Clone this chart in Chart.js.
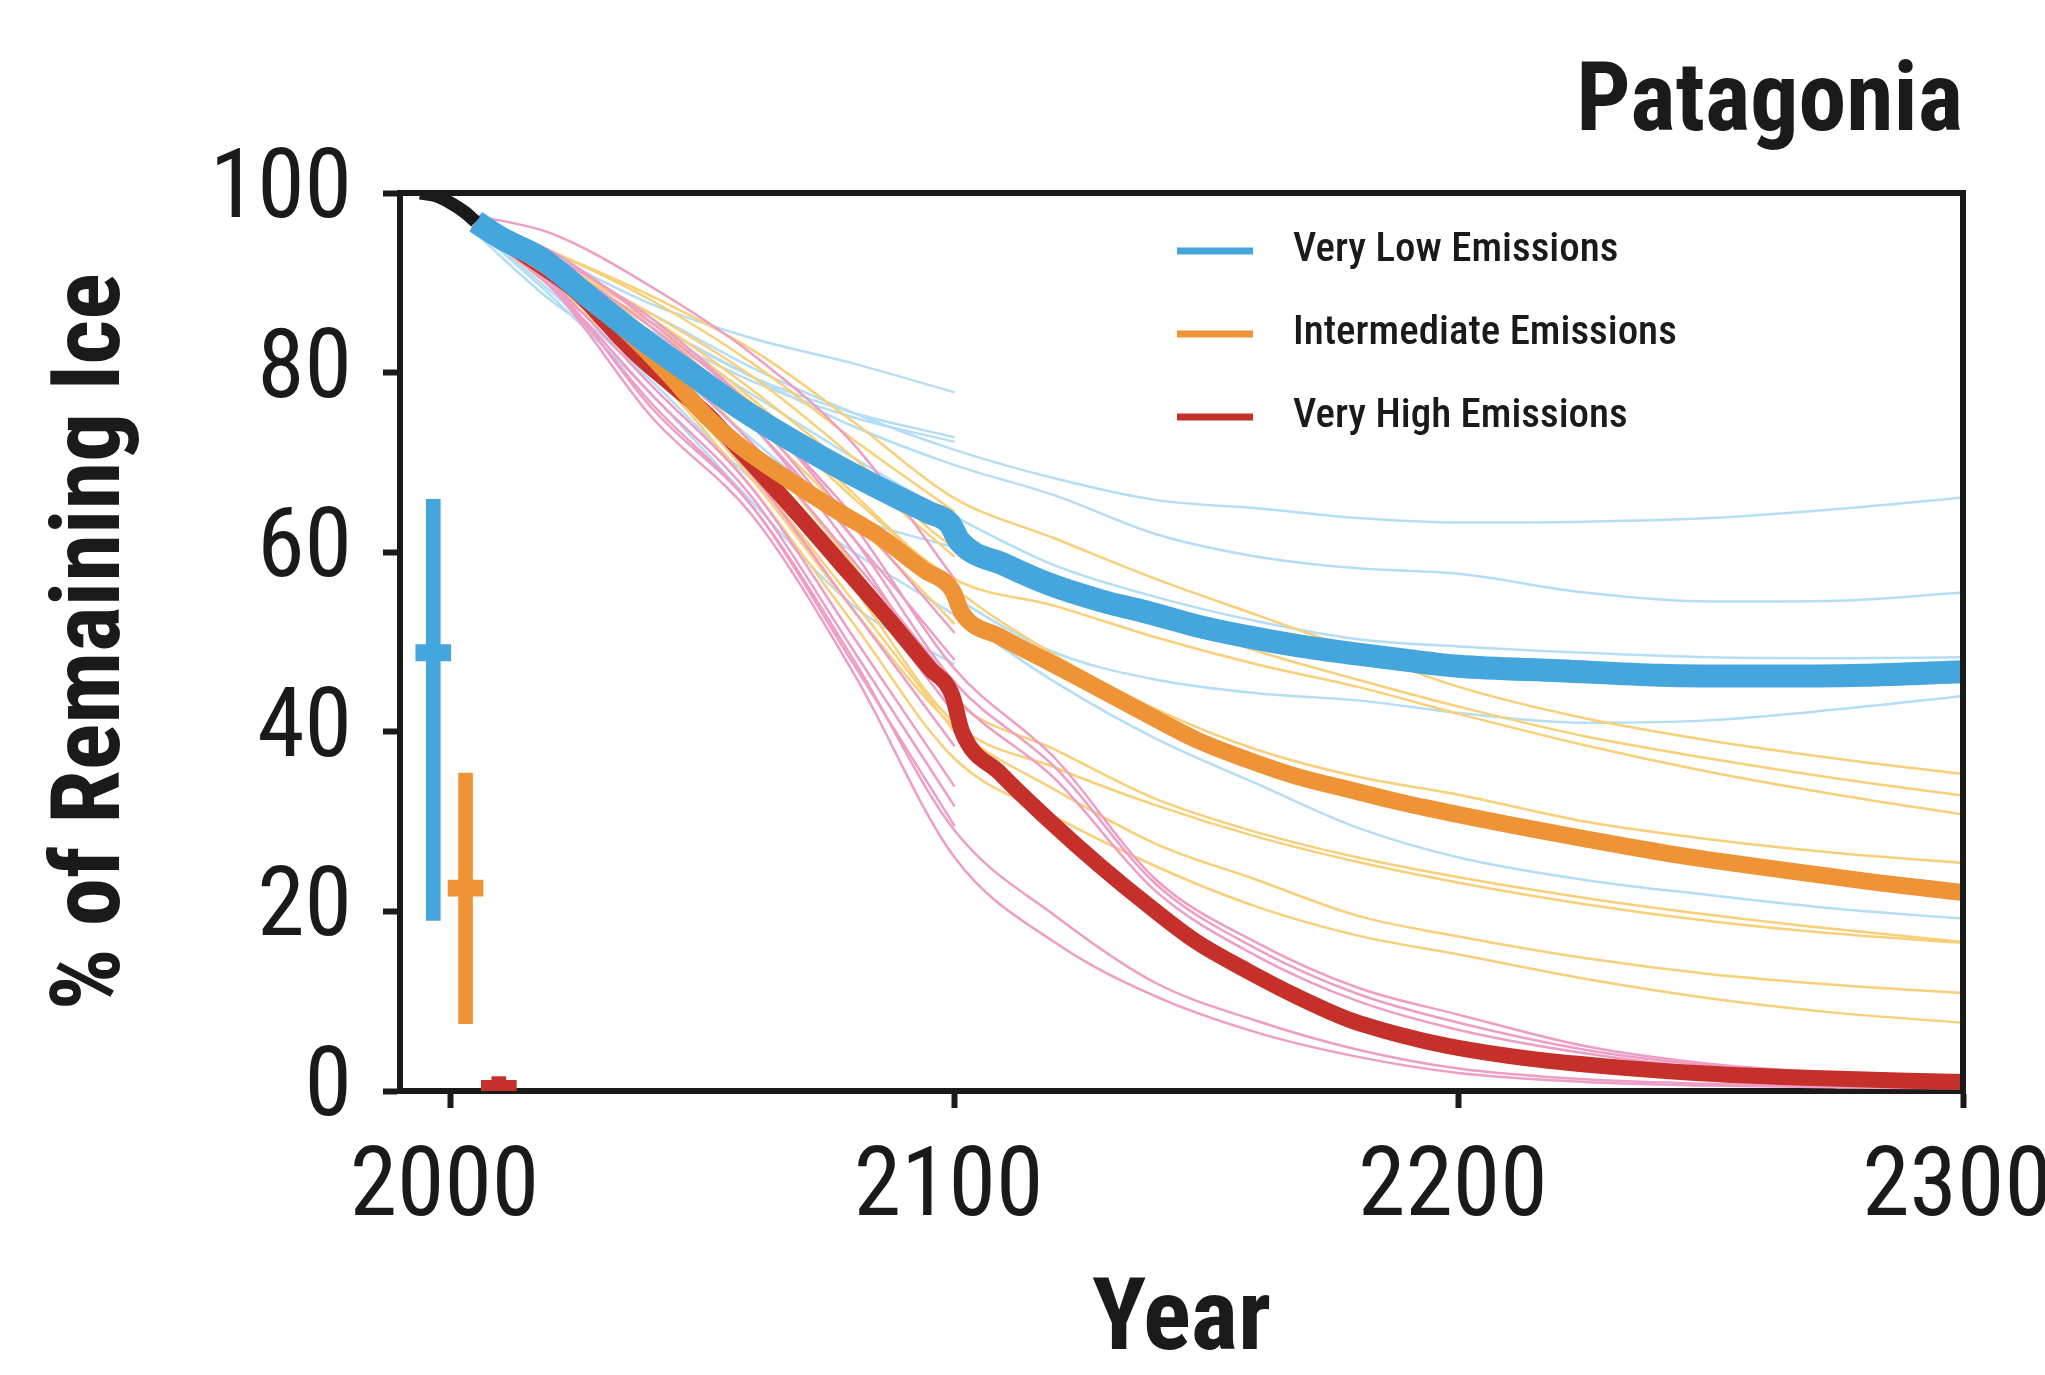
<!DOCTYPE html>
<html>
<head>
<meta charset="utf-8">
<title>Patagonia</title>
<script src="https://cdn.jsdelivr.net/npm/chart.js@4.4.1/dist/chart.umd.min.js"></script>
<style>
  html, body { margin: 0; padding: 0; background: #fff; }
  #wrap { width: 2045px; height: 1375px; }
</style>
</head>
<body>
<div id="wrap"><canvas id="ice" width="2045" height="1375"></canvas></div>
<script>
// observed record
const histYears = [1994, 1997, 2000, 2003, 2005];
const histIce = [100, 99.7, 98.9, 97.8, 96.8];

// scenario medians
const veryLowYears = [2005, 2010, 2018, 2028, 2038, 2048, 2057, 2067, 2077, 2088, 2095, 2099, 2101, 2110, 2119, 2129, 2139, 2148, 2158, 2168, 2178, 2189, 2200, 2220, 2240, 2260, 2280, 2300];
const veryLowIce = [96.8, 95.0, 92.7, 88.2, 83.8, 79.8, 76.2, 72.7, 69.5, 66.3, 64.4, 63.2, 61.2, 58.6, 56.4, 54.6, 53.2, 51.8, 50.6, 49.6, 48.8, 48.0, 47.3, 46.8, 46.3, 46.2, 46.3, 46.7];

const intermediateYears = [2005, 2015, 2025, 2035, 2043, 2051, 2057, 2064, 2070, 2077, 2085, 2094, 2099.5, 2101.5, 2109, 2119, 2129, 2139, 2148, 2158, 2168, 2178, 2188, 2198, 2220, 2241, 2254, 2267, 2283, 2300];
const intermediateIce = [96.8, 93.3, 89.5, 84.6, 80.0, 75.0, 72.0, 69.2, 67.0, 64.5, 61.8, 58.0, 55.8, 53.2, 50.6, 47.7, 44.7, 41.7, 39.1, 36.9, 35.0, 33.6, 32.2, 31.0, 28.6, 26.5, 25.4, 24.4, 23.2, 22.1];

const veryHighYears = [2005, 2015, 2025, 2036, 2044, 2051, 2058, 2064, 2071, 2077, 2084, 2090, 2095, 2099.5, 2101.5, 2109, 2119, 2129, 2139, 2148, 2158, 2168, 2178, 2188, 2198, 2214, 2228, 2247, 2267, 2300];
const veryHighIce = [96.8, 93.0, 89.0, 82.5, 78.6, 75.3, 71.0, 67.3, 62.9, 59.0, 54.5, 50.5, 47.1, 44.1, 40.0, 35.4, 30.0, 25.0, 20.4, 16.6, 13.4, 10.5, 8.0, 6.3, 5.0, 3.6, 2.8, 2.0, 1.5, 1.0];

// individual model runs (some stop at 2100, some run to 2300)
const shortYears = [2005, 2020, 2040, 2060, 2080, 2100];
const longYears = [2005, 2020, 2040, 2060, 2080, 2100, 2120, 2140, 2160, 2180, 2200, 2225, 2250, 2275, 2300];

const veryLowMembers = [
  [96.6, 93.0, 87.6, 83.8, 81.0, 77.8],
  [96.3, 91.5, 85.5, 79.5, 75.5, 72.8],
  [96.0, 90.0, 84.5, 79.0, 75.0, 72.3],
  [95.5, 88.0, 80.5, 71.0, 64.0, 60.5],
  [96.0, 88.5, 77.5, 65.5, 54.0, 47.5],
  [96.6, 92.0, 86.5, 80.5, 75.5, 71.4, 68.2, 65.8, 64.9, 63.8, 63.3, 63.4, 63.8, 64.8, 66.1],
  [96.5, 91.5, 85.5, 79.5, 74.0, 69.7, 66.3, 62.0, 59.5, 58.2, 57.6, 55.5, 54.5, 54.6, 55.5],
  [96.3, 91.0, 84.5, 77.5, 70.5, 64.0, 58.5, 55.0, 52.3, 50.3, 49.5, 48.8, 48.3, 48.2, 48.3],
  [96.0, 89.8, 82.0, 72.5, 63.0, 55.0, 48.8, 45.8, 44.3, 43.5, 42.1, 41.0, 41.3, 42.5, 44.0],
  [96.0, 89.0, 79.0, 68.0, 60.0, 53.0, 45.5, 39.2, 34.2, 29.3, 26.0, 23.5, 21.8, 20.3, 19.2]
];

const intermediateMembers = [
  [97.0, 93.5, 88.0, 81.0, 72.5, 64.5],
  [96.8, 92.5, 86.0, 78.0, 69.0, 59.5],
  [96.5, 91.5, 84.0, 74.5, 63.5, 52.0],
  [96.5, 90.5, 82.0, 71.0, 58.0, 45.0],
  [96.3, 90.0, 80.5, 68.5, 54.5, 40.0],
  [97.0, 93.5, 88.5, 82.5, 74.5, 66.0, 61.5, 57.0, 53.0, 49.0, 45.0, 41.5, 39.0, 37.0, 35.3],
  [96.8, 92.5, 86.5, 79.5, 70.5, 60.5, 56.5, 53.0, 49.0, 45.8, 42.8, 39.5, 37.0, 34.8, 32.9],
  [96.6, 92.0, 85.0, 76.5, 66.0, 57.0, 54.0, 50.5, 47.5, 45.0, 42.0, 38.5, 35.5, 33.0, 30.8],
  [96.6, 92.0, 85.5, 77.0, 66.5, 56.0, 48.5, 42.5, 38.0, 35.0, 33.0, 30.0, 28.0, 26.5, 25.4],
  [96.5, 91.0, 83.0, 72.0, 58.5, 43.5, 38.0, 32.5, 28.8, 26.0, 23.8, 21.5, 19.6, 18.0, 16.6],
  [96.4, 90.5, 82.0, 70.5, 56.0, 41.0, 36.0, 31.8, 28.3, 25.5, 23.2, 20.8, 18.9, 17.5, 16.5],
  [96.3, 90.0, 80.5, 68.0, 53.5, 40.5, 33.5, 27.5, 23.5, 19.5, 17.2, 14.8, 13.0, 11.8, 10.9],
  [96.2, 89.5, 80.0, 67.0, 52.0, 37.0, 30.5, 25.0, 20.5, 17.3, 15.2, 12.5, 10.3, 8.7, 7.6]
];

const veryHighMembers = [
  [97.5, 95.5, 89.5, 82.0, 72.0, 57.0],
  [97.0, 93.5, 85.5, 76.0, 64.0, 51.0],
  [96.8, 92.5, 84.0, 74.0, 61.5, 48.0],
  [96.5, 91.5, 82.5, 72.0, 59.0, 45.0],
  [96.5, 91.0, 81.0, 70.0, 56.5, 42.0],
  [96.3, 90.5, 80.0, 68.5, 53.5, 38.4],
  [96.2, 90.0, 78.5, 67.0, 50.5, 33.9],
  [96.0, 89.5, 77.5, 66.0, 49.0, 31.7],
  [96.0, 89.5, 76.5, 65.0, 47.5, 29.5],
  [96.0, 89.5, 75.0, 64.0, 46.5, 26.0, 16.5, 10.5, 6.5, 3.8, 2.0, 1.0, 0.6, 0.4, 0.3],
  [96.0, 90.0, 76.0, 65.0, 48.0, 29.0, 19.5, 12.0, 7.8, 4.6, 2.5, 1.3, 0.8, 0.5, 0.4],
  [96.8, 93.0, 86.0, 76.0, 63.0, 47.0, 37.0, 23.5, 16.5, 11.5, 8.5, 5.0, 3.0, 2.0, 1.5],
  [96.8, 92.5, 85.0, 75.0, 61.5, 45.5, 36.0, 23.0, 15.8, 10.8, 7.6, 4.6, 2.8, 1.8, 1.3],
  [96.5, 92.0, 84.0, 74.0, 60.0, 44.0, 34.7, 22.2, 15.0, 10.0, 6.8, 4.2, 2.5, 1.6, 1.1]
];

// 2100 ranges shown at the left edge
const rangeYears = [1996.6, 2003.0, 2009.6];
const rangeLow = [19.0, 7.5, 0];
const rangeHigh = [65.9, 35.4, 1.6];
const rangeMid = [48.8, 22.6, 0.3];

const xTicks = [2000, 2100, 2200, 2300];
const yTicks = [0, 20, 40, 60, 80, 100];

const legendLabels = ['Very Low Emissions', 'Intermediate Emissions', 'Very High Emissions'];

const blue = '#45a6dd', orange = '#ef9436', red = '#c5302a';
const lightBlue = '#b5def5', lightOrange = '#f8d07a', pink = '#ee9ec5';
const ink = '#1a1a1a';
const narrow = "Roboto, 'Open Sans', sans-serif";

function points(xs, ys) {
  return ys.map((y, i) => ({ x: xs[i], y: y }));
}

function memberSets(members, color, order) {
  return members.map(vals => ({
    data: points(vals.length === shortYears.length ? shortYears : longYears, vals),
    borderColor: color,
    borderWidth: 2.5,
    order: order
  }));
}

// legend drawn inside the plot box
const legendPlugin = {
  id: 'scenarioLegend',
  afterDraw(chart) {
    const { ctx, chartArea } = chart;
    const colors = [blue, orange, red];
    ctx.save();
    ctx.font = '500 condensed 41px ' + narrow;
    ctx.textBaseline = 'middle';
    legendLabels.forEach((label, i) => {
      const y = chartArea.top + 58 + i * 83;
      ctx.strokeStyle = colors[i];
      ctx.lineWidth = 7;
      ctx.beginPath();
      ctx.moveTo(chartArea.left + 777, y);
      ctx.lineTo(chartArea.left + 853, y);
      ctx.stroke();
      ctx.fillStyle = ink;
      ctx.fillText(label, chartArea.left + 893, y);
    });
    ctx.restore();
  }
};

// top and right sides of the box
const framePlugin = {
  id: 'frame',
  afterDatasetsDraw(chart) {
    const { ctx, chartArea: a } = chart;
    ctx.save();
    ctx.strokeStyle = ink;
    ctx.lineWidth = 6;
    ctx.lineCap = 'square';
    ctx.beginPath();
    ctx.moveTo(a.left, a.top);
    ctx.lineTo(a.right, a.top);
    ctx.lineTo(a.right, a.bottom);
    ctx.stroke();
    ctx.restore();
  }
};

const datasets = [
  {
    type: 'bar',
    data: rangeYears.map((x, i) => ({ x: x, y: [rangeLow[i], rangeHigh[i]] })),
    backgroundColor: [blue, orange, red],
    barThickness: 14,
    grouped: false,
    order: 0
  },
  {
    type: 'bar',
    data: rangeYears.map((x, i) => ({ x: x, y: [rangeMid[i] - 0.9, rangeMid[i] + 0.9] })),
    backgroundColor: [blue, orange, red],
    barThickness: 35,
    grouped: false,
    order: 0
  },
  { data: points(histYears, histIce), borderColor: ink, borderWidth: 13, order: 1 },
  { data: points(veryLowYears, veryLowIce), borderColor: blue, borderWidth: 23, order: 2 },
  { data: points(intermediateYears, intermediateIce), borderColor: orange, borderWidth: 17, order: 3 },
  { data: points(veryHighYears, veryHighIce), borderColor: red, borderWidth: 16, order: 4 },
  ...memberSets(veryHighMembers, pink, 5),
  ...memberSets(intermediateMembers, lightOrange, 6),
  ...memberSets(veryLowMembers, lightBlue, 7)
];

new Chart(document.getElementById('ice'), {
  type: 'line',
  data: { datasets: datasets },
  plugins: [legendPlugin, framePlugin],
  options: {
    responsive: false,
    devicePixelRatio: 1,
    animation: false,
    events: [],
    clip: 0,
    layout: { padding: { left: 0, right: 82, top: 0, bottom: 0 } },
    elements: {
      point: { radius: 0 },
      line: { cubicInterpolationMode: 'monotone', borderJoinStyle: 'round', fill: false },
      bar: { borderWidth: 0 }
    },
    plugins: {
      legend: { display: false },
      tooltip: { enabled: false },
      title: {
        display: true,
        text: 'Patagonia',
        align: 'end',
        color: ink,
        font: { family: narrow, size: 96, weight: 'bold condensed', lineHeight: 1 },
        padding: { top: 58, bottom: 39 }
      }
    },
    scales: {
      x: {
        type: 'linear',
        min: 1990,
        max: 2300,
        offset: false,
        afterBuildTicks: axis => { axis.ticks = xTicks.map(v => ({ value: v })); },
        afterFit: axis => { axis.height = 284; axis.paddingLeft = 0; axis.paddingRight = 0; },
        grid: { offset: false, drawOnChartArea: false, drawTicks: true, tickLength: 17, tickWidth: 6, tickColor: ink },
        border: { display: true, width: 6, color: ink },
        ticks: {
          color: ink,
          font: { family: narrow, size: 96, weight: 'normal condensed', lineHeight: 1 },
          padding: 35,
          labelOffset: -6,
          maxRotation: 0,
          autoSkip: false,
          callback: v => String(v)
        },
        title: {
          display: true,
          text: 'Year',
          color: ink,
          font: { family: narrow, size: 100, weight: 'bold condensed', lineHeight: 1 },
          padding: { top: 0, bottom: 1 }
        }
      },
      y: {
        min: 0,
        max: 100,
        afterBuildTicks: axis => { axis.ticks = yTicks.map(v => ({ value: v })); },
        afterFit: axis => { axis.width = 400; axis.paddingTop = 0; axis.paddingBottom = 0; },
        grid: { drawOnChartArea: false, drawTicks: true, tickLength: 17, tickWidth: 6, tickColor: ink },
        border: { display: true, width: 6, color: ink },
        ticks: {
          color: ink,
          font: { family: narrow, size: 96, weight: 'normal condensed', lineHeight: 1 },
          padding: 31,
          callback: v => String(v)
        },
        title: {
          display: true,
          text: '% of Remaining Ice',
          color: ink,
          font: { family: narrow, size: 97, weight: 'bold semi-condensed', lineHeight: 1 },
          padding: { top: 46, bottom: 0 }
        }
      }
    }
  }
});
</script>
</body>
</html>
